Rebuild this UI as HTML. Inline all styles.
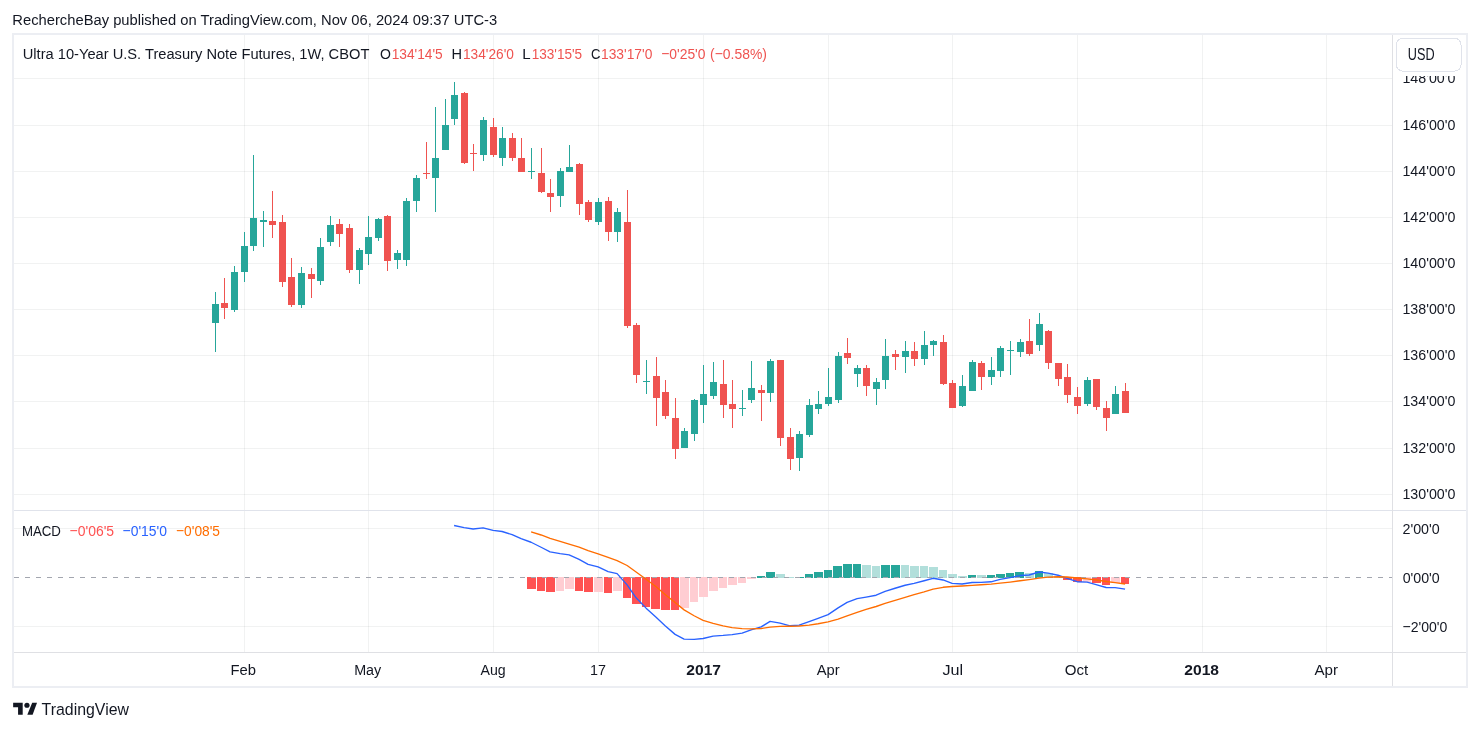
<!DOCTYPE html>
<html><head><meta charset="utf-8"><style>html,body{margin:0;padding:0;background:#fff;width:1480px;height:731px;overflow:hidden}svg{will-change:transform}text{shape-rendering:auto}</style></head>
<body><svg width="1480" height="731" viewBox="0 0 1480 731" style="display:block;font-family:'Liberation Sans', sans-serif" shape-rendering="crispEdges"><rect x="0" y="0" width="1480" height="731" fill="#ffffff"/>
<rect x="14" y="78" width="1378" height="1" fill="#3a4a44" fill-opacity="0.072"/>
<rect x="14" y="125" width="1378" height="1" fill="#3a4a44" fill-opacity="0.072"/>
<rect x="14" y="171" width="1378" height="1" fill="#3a4a44" fill-opacity="0.072"/>
<rect x="14" y="217" width="1378" height="1" fill="#3a4a44" fill-opacity="0.072"/>
<rect x="14" y="263" width="1378" height="1" fill="#3a4a44" fill-opacity="0.072"/>
<rect x="14" y="309" width="1378" height="1" fill="#3a4a44" fill-opacity="0.072"/>
<rect x="14" y="355" width="1378" height="1" fill="#3a4a44" fill-opacity="0.072"/>
<rect x="14" y="401" width="1378" height="1" fill="#3a4a44" fill-opacity="0.072"/>
<rect x="14" y="448" width="1378" height="1" fill="#3a4a44" fill-opacity="0.072"/>
<rect x="14" y="494" width="1378" height="1" fill="#3a4a44" fill-opacity="0.072"/>
<rect x="14" y="528" width="1378" height="1" fill="#3a4a44" fill-opacity="0.072"/>
<rect x="14" y="626" width="1378" height="1" fill="#3a4a44" fill-opacity="0.072"/>
<rect x="244" y="35" width="1" height="475" fill="#3a4a44" fill-opacity="0.072"/>
<rect x="244" y="511" width="1" height="141" fill="#3a4a44" fill-opacity="0.072"/>
<rect x="368" y="35" width="1" height="475" fill="#3a4a44" fill-opacity="0.072"/>
<rect x="368" y="511" width="1" height="141" fill="#3a4a44" fill-opacity="0.072"/>
<rect x="493" y="35" width="1" height="475" fill="#3a4a44" fill-opacity="0.072"/>
<rect x="493" y="511" width="1" height="141" fill="#3a4a44" fill-opacity="0.072"/>
<rect x="598" y="35" width="1" height="475" fill="#3a4a44" fill-opacity="0.072"/>
<rect x="598" y="511" width="1" height="141" fill="#3a4a44" fill-opacity="0.072"/>
<rect x="703" y="35" width="1" height="475" fill="#3a4a44" fill-opacity="0.072"/>
<rect x="703" y="511" width="1" height="141" fill="#3a4a44" fill-opacity="0.072"/>
<rect x="828" y="35" width="1" height="475" fill="#3a4a44" fill-opacity="0.072"/>
<rect x="828" y="511" width="1" height="141" fill="#3a4a44" fill-opacity="0.072"/>
<rect x="952" y="35" width="1" height="475" fill="#3a4a44" fill-opacity="0.072"/>
<rect x="952" y="511" width="1" height="141" fill="#3a4a44" fill-opacity="0.072"/>
<rect x="1077" y="35" width="1" height="475" fill="#3a4a44" fill-opacity="0.072"/>
<rect x="1077" y="511" width="1" height="141" fill="#3a4a44" fill-opacity="0.072"/>
<rect x="1202" y="35" width="1" height="475" fill="#3a4a44" fill-opacity="0.072"/>
<rect x="1202" y="511" width="1" height="141" fill="#3a4a44" fill-opacity="0.072"/>
<rect x="1326" y="35" width="1" height="475" fill="#3a4a44" fill-opacity="0.072"/>
<rect x="1326" y="511" width="1" height="141" fill="#3a4a44" fill-opacity="0.072"/>
<rect x="215" y="292" width="1" height="60" fill="#26a69a"/>
<rect x="212" y="304" width="7" height="19" fill="#26a69a"/>
<rect x="224" y="278" width="1" height="41" fill="#ef5350"/>
<rect x="221" y="303" width="7" height="5" fill="#ef5350"/>
<rect x="234" y="266" width="1" height="46" fill="#26a69a"/>
<rect x="231" y="272" width="7" height="38" fill="#26a69a"/>
<rect x="244" y="232" width="1" height="50" fill="#26a69a"/>
<rect x="241" y="246" width="7" height="26" fill="#26a69a"/>
<rect x="253" y="155" width="1" height="96" fill="#26a69a"/>
<rect x="250" y="218" width="7" height="28" fill="#26a69a"/>
<rect x="263" y="211" width="1" height="36" fill="#26a69a"/>
<rect x="260" y="220" width="7" height="2" fill="#26a69a"/>
<rect x="272" y="191" width="1" height="47" fill="#ef5350"/>
<rect x="269" y="221" width="7" height="4" fill="#ef5350"/>
<rect x="282" y="215" width="1" height="72" fill="#ef5350"/>
<rect x="279" y="222" width="7" height="60" fill="#ef5350"/>
<rect x="291" y="258" width="1" height="49" fill="#ef5350"/>
<rect x="288" y="277" width="7" height="28" fill="#ef5350"/>
<rect x="301" y="267" width="1" height="41" fill="#26a69a"/>
<rect x="298" y="273" width="7" height="32" fill="#26a69a"/>
<rect x="311" y="268" width="1" height="30" fill="#ef5350"/>
<rect x="308" y="274" width="7" height="5" fill="#ef5350"/>
<rect x="320" y="238" width="1" height="47" fill="#26a69a"/>
<rect x="317" y="247" width="7" height="34" fill="#26a69a"/>
<rect x="330" y="216" width="1" height="30" fill="#26a69a"/>
<rect x="327" y="225" width="7" height="17" fill="#26a69a"/>
<rect x="339" y="219" width="1" height="28" fill="#ef5350"/>
<rect x="336" y="224" width="7" height="10" fill="#ef5350"/>
<rect x="349" y="224" width="1" height="49" fill="#ef5350"/>
<rect x="346" y="228" width="7" height="42" fill="#ef5350"/>
<rect x="359" y="248" width="1" height="36" fill="#26a69a"/>
<rect x="356" y="250" width="7" height="20" fill="#26a69a"/>
<rect x="368" y="216" width="1" height="49" fill="#26a69a"/>
<rect x="365" y="237" width="7" height="17" fill="#26a69a"/>
<rect x="378" y="218" width="1" height="23" fill="#26a69a"/>
<rect x="375" y="219" width="7" height="19" fill="#26a69a"/>
<rect x="387" y="215" width="1" height="56" fill="#ef5350"/>
<rect x="384" y="216" width="7" height="45" fill="#ef5350"/>
<rect x="397" y="250" width="1" height="19" fill="#26a69a"/>
<rect x="394" y="253" width="7" height="7" fill="#26a69a"/>
<rect x="406" y="198" width="1" height="68" fill="#26a69a"/>
<rect x="403" y="201" width="7" height="59" fill="#26a69a"/>
<rect x="416" y="175" width="1" height="37" fill="#26a69a"/>
<rect x="413" y="178" width="7" height="23" fill="#26a69a"/>
<rect x="426" y="142" width="1" height="37" fill="#ef5350"/>
<rect x="423" y="173" width="7" height="1" fill="#ef5350"/>
<rect x="435" y="107" width="1" height="105" fill="#26a69a"/>
<rect x="432" y="158" width="7" height="20" fill="#26a69a"/>
<rect x="445" y="99" width="1" height="51" fill="#26a69a"/>
<rect x="442" y="125" width="7" height="25" fill="#26a69a"/>
<rect x="454" y="82" width="1" height="43" fill="#26a69a"/>
<rect x="451" y="95" width="7" height="24" fill="#26a69a"/>
<rect x="464" y="92" width="1" height="72" fill="#ef5350"/>
<rect x="461" y="93" width="7" height="70" fill="#ef5350"/>
<rect x="473" y="144" width="1" height="27" fill="#ef5350"/>
<rect x="470" y="153" width="7" height="1" fill="#ef5350"/>
<rect x="483" y="117" width="1" height="44" fill="#26a69a"/>
<rect x="480" y="120" width="7" height="35" fill="#26a69a"/>
<rect x="493" y="118" width="1" height="39" fill="#ef5350"/>
<rect x="490" y="127" width="7" height="28" fill="#ef5350"/>
<rect x="502" y="127" width="1" height="39" fill="#26a69a"/>
<rect x="499" y="138" width="7" height="20" fill="#26a69a"/>
<rect x="512" y="133" width="1" height="28" fill="#ef5350"/>
<rect x="509" y="138" width="7" height="20" fill="#ef5350"/>
<rect x="521" y="138" width="1" height="34" fill="#ef5350"/>
<rect x="518" y="158" width="7" height="14" fill="#ef5350"/>
<rect x="531" y="148" width="1" height="31" fill="#26a69a"/>
<rect x="528" y="171" width="7" height="1" fill="#26a69a"/>
<rect x="541" y="148" width="1" height="45" fill="#ef5350"/>
<rect x="538" y="173" width="7" height="19" fill="#ef5350"/>
<rect x="550" y="179" width="1" height="33" fill="#ef5350"/>
<rect x="547" y="193" width="7" height="4" fill="#ef5350"/>
<rect x="560" y="168" width="1" height="39" fill="#26a69a"/>
<rect x="557" y="171" width="7" height="25" fill="#26a69a"/>
<rect x="569" y="145" width="1" height="27" fill="#26a69a"/>
<rect x="566" y="167" width="7" height="5" fill="#26a69a"/>
<rect x="579" y="163" width="1" height="52" fill="#ef5350"/>
<rect x="576" y="164" width="7" height="40" fill="#ef5350"/>
<rect x="588" y="200" width="1" height="22" fill="#ef5350"/>
<rect x="585" y="202" width="7" height="18" fill="#ef5350"/>
<rect x="598" y="198" width="1" height="27" fill="#26a69a"/>
<rect x="595" y="202" width="7" height="20" fill="#26a69a"/>
<rect x="608" y="197" width="1" height="44" fill="#ef5350"/>
<rect x="605" y="201" width="7" height="31" fill="#ef5350"/>
<rect x="617" y="208" width="1" height="34" fill="#26a69a"/>
<rect x="614" y="212" width="7" height="20" fill="#26a69a"/>
<rect x="627" y="190" width="1" height="138" fill="#ef5350"/>
<rect x="624" y="222" width="7" height="104" fill="#ef5350"/>
<rect x="636" y="323" width="1" height="60" fill="#ef5350"/>
<rect x="633" y="325" width="7" height="50" fill="#ef5350"/>
<rect x="646" y="360" width="1" height="34" fill="#26a69a"/>
<rect x="643" y="381" width="7" height="1" fill="#26a69a"/>
<rect x="656" y="357" width="1" height="69" fill="#ef5350"/>
<rect x="653" y="376" width="7" height="22" fill="#ef5350"/>
<rect x="665" y="380" width="1" height="39" fill="#ef5350"/>
<rect x="662" y="392" width="7" height="24" fill="#ef5350"/>
<rect x="675" y="398" width="1" height="61" fill="#ef5350"/>
<rect x="672" y="418" width="7" height="31" fill="#ef5350"/>
<rect x="684" y="428" width="1" height="20" fill="#26a69a"/>
<rect x="681" y="431" width="7" height="17" fill="#26a69a"/>
<rect x="694" y="399" width="1" height="42" fill="#26a69a"/>
<rect x="691" y="400" width="7" height="34" fill="#26a69a"/>
<rect x="703" y="365" width="1" height="58" fill="#26a69a"/>
<rect x="700" y="394" width="7" height="11" fill="#26a69a"/>
<rect x="713" y="362" width="1" height="37" fill="#26a69a"/>
<rect x="710" y="382" width="7" height="14" fill="#26a69a"/>
<rect x="723" y="360" width="1" height="58" fill="#ef5350"/>
<rect x="720" y="384" width="7" height="21" fill="#ef5350"/>
<rect x="732" y="380" width="1" height="48" fill="#ef5350"/>
<rect x="729" y="404" width="7" height="5" fill="#ef5350"/>
<rect x="742" y="390" width="1" height="26" fill="#26a69a"/>
<rect x="739" y="408" width="7" height="1" fill="#26a69a"/>
<rect x="751" y="361" width="1" height="42" fill="#26a69a"/>
<rect x="748" y="388" width="7" height="12" fill="#26a69a"/>
<rect x="761" y="385" width="1" height="36" fill="#ef5350"/>
<rect x="758" y="390" width="7" height="3" fill="#ef5350"/>
<rect x="770" y="359" width="1" height="43" fill="#26a69a"/>
<rect x="767" y="361" width="7" height="32" fill="#26a69a"/>
<rect x="780" y="360" width="1" height="86" fill="#ef5350"/>
<rect x="777" y="360" width="7" height="78" fill="#ef5350"/>
<rect x="790" y="428" width="1" height="42" fill="#ef5350"/>
<rect x="787" y="437" width="7" height="22" fill="#ef5350"/>
<rect x="799" y="431" width="1" height="40" fill="#26a69a"/>
<rect x="796" y="434" width="7" height="24" fill="#26a69a"/>
<rect x="809" y="399" width="1" height="38" fill="#26a69a"/>
<rect x="806" y="405" width="7" height="30" fill="#26a69a"/>
<rect x="818" y="391" width="1" height="23" fill="#26a69a"/>
<rect x="815" y="404" width="7" height="5" fill="#26a69a"/>
<rect x="828" y="368" width="1" height="38" fill="#26a69a"/>
<rect x="825" y="397" width="7" height="7" fill="#26a69a"/>
<rect x="838" y="352" width="1" height="51" fill="#26a69a"/>
<rect x="835" y="356" width="7" height="44" fill="#26a69a"/>
<rect x="847" y="338" width="1" height="26" fill="#ef5350"/>
<rect x="844" y="353" width="7" height="5" fill="#ef5350"/>
<rect x="857" y="365" width="1" height="22" fill="#26a69a"/>
<rect x="854" y="368" width="7" height="6" fill="#26a69a"/>
<rect x="866" y="365" width="1" height="31" fill="#ef5350"/>
<rect x="863" y="368" width="7" height="18" fill="#ef5350"/>
<rect x="876" y="378" width="1" height="27" fill="#26a69a"/>
<rect x="873" y="382" width="7" height="7" fill="#26a69a"/>
<rect x="885" y="339" width="1" height="50" fill="#26a69a"/>
<rect x="882" y="356" width="7" height="24" fill="#26a69a"/>
<rect x="895" y="350" width="1" height="20" fill="#ef5350"/>
<rect x="892" y="354" width="7" height="3" fill="#ef5350"/>
<rect x="905" y="341" width="1" height="32" fill="#26a69a"/>
<rect x="902" y="351" width="7" height="6" fill="#26a69a"/>
<rect x="914" y="342" width="1" height="24" fill="#ef5350"/>
<rect x="911" y="351" width="7" height="8" fill="#ef5350"/>
<rect x="924" y="331" width="1" height="34" fill="#26a69a"/>
<rect x="921" y="345" width="7" height="14" fill="#26a69a"/>
<rect x="933" y="340" width="1" height="16" fill="#26a69a"/>
<rect x="930" y="341" width="7" height="4" fill="#26a69a"/>
<rect x="943" y="335" width="1" height="50" fill="#ef5350"/>
<rect x="940" y="342" width="7" height="42" fill="#ef5350"/>
<rect x="952" y="380" width="1" height="28" fill="#ef5350"/>
<rect x="949" y="383" width="7" height="25" fill="#ef5350"/>
<rect x="962" y="375" width="1" height="32" fill="#26a69a"/>
<rect x="959" y="386" width="7" height="20" fill="#26a69a"/>
<rect x="972" y="360" width="1" height="31" fill="#26a69a"/>
<rect x="969" y="362" width="7" height="29" fill="#26a69a"/>
<rect x="981" y="361" width="1" height="29" fill="#ef5350"/>
<rect x="978" y="363" width="7" height="14" fill="#ef5350"/>
<rect x="991" y="357" width="1" height="28" fill="#26a69a"/>
<rect x="988" y="370" width="7" height="7" fill="#26a69a"/>
<rect x="1000" y="346" width="1" height="31" fill="#26a69a"/>
<rect x="997" y="348" width="7" height="23" fill="#26a69a"/>
<rect x="1010" y="341" width="1" height="34" fill="#26a69a"/>
<rect x="1007" y="350" width="7" height="1" fill="#26a69a"/>
<rect x="1020" y="339" width="1" height="18" fill="#26a69a"/>
<rect x="1017" y="342" width="7" height="10" fill="#26a69a"/>
<rect x="1029" y="319" width="1" height="37" fill="#ef5350"/>
<rect x="1026" y="341" width="7" height="13" fill="#ef5350"/>
<rect x="1039" y="313" width="1" height="38" fill="#26a69a"/>
<rect x="1036" y="324" width="7" height="21" fill="#26a69a"/>
<rect x="1048" y="330" width="1" height="39" fill="#ef5350"/>
<rect x="1045" y="331" width="7" height="32" fill="#ef5350"/>
<rect x="1058" y="363" width="1" height="23" fill="#ef5350"/>
<rect x="1055" y="363" width="7" height="16" fill="#ef5350"/>
<rect x="1067" y="364" width="1" height="39" fill="#ef5350"/>
<rect x="1064" y="377" width="7" height="18" fill="#ef5350"/>
<rect x="1077" y="387" width="1" height="27" fill="#ef5350"/>
<rect x="1074" y="397" width="7" height="9" fill="#ef5350"/>
<rect x="1087" y="377" width="1" height="29" fill="#26a69a"/>
<rect x="1084" y="380" width="7" height="24" fill="#26a69a"/>
<rect x="1096" y="379" width="1" height="31" fill="#ef5350"/>
<rect x="1093" y="379" width="7" height="28" fill="#ef5350"/>
<rect x="1106" y="401" width="1" height="30" fill="#ef5350"/>
<rect x="1103" y="408" width="7" height="10" fill="#ef5350"/>
<rect x="1115" y="386" width="1" height="28" fill="#26a69a"/>
<rect x="1112" y="394" width="7" height="20" fill="#26a69a"/>
<rect x="1125" y="383" width="1" height="30" fill="#ef5350"/>
<rect x="1122" y="391" width="7" height="22" fill="#ef5350"/>
<rect x="527" y="577" width="9" height="12" fill="#ff5252"/>
<rect x="537" y="577" width="8" height="14" fill="#ff5252"/>
<rect x="546" y="577" width="9" height="15" fill="#ff5252"/>
<rect x="556" y="577" width="8" height="14" fill="#ffcdd2"/>
<rect x="565" y="577" width="9" height="12" fill="#ffcdd2"/>
<rect x="575" y="577" width="8" height="14" fill="#ff5252"/>
<rect x="584" y="577" width="9" height="15" fill="#ff5252"/>
<rect x="594" y="577" width="9" height="15" fill="#ffcdd2"/>
<rect x="604" y="577" width="8" height="16" fill="#ff5252"/>
<rect x="613" y="577" width="9" height="14" fill="#ffcdd2"/>
<rect x="623" y="577" width="8" height="21" fill="#ff5252"/>
<rect x="632" y="577" width="9" height="27" fill="#ff5252"/>
<rect x="642" y="577" width="8" height="30" fill="#ff5252"/>
<rect x="651" y="577" width="9" height="32" fill="#ff5252"/>
<rect x="661" y="577" width="9" height="33" fill="#ff5252"/>
<rect x="671" y="577" width="8" height="33" fill="#ff5252"/>
<rect x="680" y="577" width="9" height="31" fill="#ffcdd2"/>
<rect x="690" y="577" width="8" height="25" fill="#ffcdd2"/>
<rect x="699" y="577" width="9" height="20" fill="#ffcdd2"/>
<rect x="709" y="577" width="9" height="14" fill="#ffcdd2"/>
<rect x="719" y="577" width="8" height="11" fill="#ffcdd2"/>
<rect x="728" y="577" width="9" height="8" fill="#ffcdd2"/>
<rect x="738" y="577" width="8" height="6" fill="#ffcdd2"/>
<rect x="747" y="577" width="9" height="2" fill="#ffcdd2"/>
<rect x="757" y="576" width="8" height="2" fill="#26a69a"/>
<rect x="766" y="572" width="9" height="6" fill="#26a69a"/>
<rect x="776" y="574" width="9" height="4" fill="#b2dfdb"/>
<rect x="786" y="577" width="8" height="1" fill="#b2dfdb"/>
<rect x="795" y="577" width="9" height="1" fill="#26a69a"/>
<rect x="805" y="574" width="8" height="4" fill="#26a69a"/>
<rect x="814" y="572" width="9" height="6" fill="#26a69a"/>
<rect x="824" y="570" width="8" height="8" fill="#26a69a"/>
<rect x="833" y="566" width="9" height="12" fill="#26a69a"/>
<rect x="843" y="564" width="9" height="14" fill="#26a69a"/>
<rect x="853" y="564" width="8" height="14" fill="#26a69a"/>
<rect x="862" y="565" width="9" height="13" fill="#b2dfdb"/>
<rect x="872" y="566" width="8" height="12" fill="#b2dfdb"/>
<rect x="881" y="565" width="9" height="13" fill="#26a69a"/>
<rect x="891" y="565" width="9" height="13" fill="#26a69a"/>
<rect x="901" y="565" width="8" height="13" fill="#b2dfdb"/>
<rect x="910" y="566" width="9" height="12" fill="#b2dfdb"/>
<rect x="920" y="566" width="8" height="12" fill="#b2dfdb"/>
<rect x="929" y="567" width="9" height="11" fill="#b2dfdb"/>
<rect x="939" y="570" width="8" height="8" fill="#b2dfdb"/>
<rect x="948" y="574" width="9" height="4" fill="#b2dfdb"/>
<rect x="958" y="576" width="9" height="2" fill="#b2dfdb"/>
<rect x="968" y="575" width="8" height="3" fill="#26a69a"/>
<rect x="977" y="575" width="9" height="3" fill="#b2dfdb"/>
<rect x="987" y="575" width="8" height="3" fill="#26a69a"/>
<rect x="996" y="574" width="9" height="4" fill="#26a69a"/>
<rect x="1006" y="573" width="8" height="5" fill="#26a69a"/>
<rect x="1015" y="572" width="9" height="6" fill="#26a69a"/>
<rect x="1025" y="573" width="9" height="5" fill="#b2dfdb"/>
<rect x="1035" y="571" width="8" height="7" fill="#26a69a"/>
<rect x="1044" y="573" width="9" height="5" fill="#b2dfdb"/>
<rect x="1054" y="576" width="8" height="2" fill="#b2dfdb"/>
<rect x="1063" y="577" width="9" height="3" fill="#ff5252"/>
<rect x="1073" y="577" width="9" height="5" fill="#ff5252"/>
<rect x="1083" y="577" width="8" height="5" fill="#ffcdd2"/>
<rect x="1092" y="577" width="9" height="6" fill="#ff5252"/>
<rect x="1102" y="577" width="8" height="8" fill="#ff5252"/>
<rect x="1111" y="577" width="9" height="6" fill="#ffcdd2"/>
<rect x="1121" y="577" width="8" height="7" fill="#ff5252"/>
<line x1="14" y1="577.5" x2="1392" y2="577.5" stroke="#a3a6af" stroke-width="1" stroke-dasharray="5 6" shape-rendering="crispEdges"/>
<polyline points="454.10,525.47 464.10,527.56 473.10,529.00 483.10,527.81 493.10,530.39 502.10,531.51 512.10,534.61 521.10,538.72 531.10,542.25 541.10,547.24 550.10,551.89 560.10,553.65 569.10,554.94 579.10,559.35 588.10,564.36 598.10,566.93 608.10,571.58 617.10,573.63 627.10,584.90 636.10,597.78 646.10,608.13 656.10,617.35 665.10,625.65 675.10,634.37 684.10,639.09 694.10,639.44 703.10,638.50 713.10,636.05 723.10,635.38 732.10,634.56 742.10,633.15 751.10,629.78 761.10,626.92 770.10,621.44 780.10,623.20 790.10,625.78 799.10,625.16 809.10,621.66 818.10,618.32 828.10,614.66 838.10,607.91 847.10,602.43 857.10,598.69 866.10,597.06 876.10,595.22 885.10,591.37 895.10,588.26 905.10,585.24 914.10,583.41 924.10,580.76 933.10,578.29 943.10,579.99 952.10,583.32 962.10,584.02 972.10,582.46 981.10,582.42 991.10,581.78 1000.10,579.36 1010.10,577.59 1020.10,575.54 1029.10,574.98 1039.10,572.02 1048.10,573.05 1058.10,575.26 1067.10,578.37 1077.10,581.73 1087.10,582.11 1096.10,584.67 1106.10,587.49 1115.10,587.56 1125.10,589.13" fill="none" stroke="#2962ff" stroke-width="1.35" stroke-linejoin="round" shape-rendering="geometricPrecision"/>
<polyline points="531.10,531.93 541.10,534.99 550.10,538.37 560.10,541.42 569.10,544.13 579.10,547.17 588.10,550.61 598.10,553.87 608.10,557.42 617.10,560.66 627.10,565.51 636.10,571.96 646.10,579.19 656.10,586.83 665.10,594.59 675.10,602.55 684.10,609.86 694.10,615.77 703.10,620.32 713.10,623.46 723.10,625.85 732.10,627.59 742.10,628.70 751.10,628.92 761.10,628.52 770.10,627.10 780.10,626.32 790.10,626.21 799.10,626.00 809.10,625.13 818.10,623.77 828.10,621.95 838.10,619.14 847.10,615.80 857.10,612.38 866.10,609.31 876.10,606.49 885.10,603.47 895.10,600.43 905.10,597.39 914.10,594.60 924.10,591.83 933.10,589.12 943.10,587.29 952.10,586.50 962.10,586.01 972.10,585.30 981.10,584.72 991.10,584.13 1000.10,583.18 1010.10,582.06 1020.10,580.76 1029.10,579.60 1039.10,578.09 1048.10,577.08 1058.10,576.71 1067.10,577.04 1077.10,577.98 1087.10,578.81 1096.10,579.98 1106.10,581.48 1115.10,582.70 1125.10,583.99" fill="none" stroke="#ff6d00" stroke-width="1.35" stroke-linejoin="round" shape-rendering="geometricPrecision"/>
<rect x="14" y="510" width="1452" height="1" fill="#e0e3eb"/>
<rect x="14" y="652" width="1452" height="1" fill="#dfe0e4"/>
<rect x="1392" y="35" width="1" height="651" fill="#dfe0e4"/>
<rect x="12" y="33" width="1456" height="2" fill="#eceef3"/>
<rect x="12" y="686" width="1456" height="2" fill="#eceef3"/>
<rect x="12" y="33" width="2" height="655" fill="#eceef3"/>
<rect x="1466" y="33" width="2" height="655" fill="#eceef3"/>
<text x="12.36" y="25" font-size="15.5" fill="#131722" font-weight="normal" text-anchor="start" textLength="484.79" lengthAdjust="spacingAndGlyphs">RechercheBay published on TradingView.com, Nov 06, 2024 09:37 UTC-3</text>
<text x="22.76" y="59" font-size="15.5" fill="#131722" font-weight="normal" text-anchor="start" textLength="346.6" lengthAdjust="spacingAndGlyphs">Ultra 10-Year U.S. Treasury Note Futures, 1W, CBOT</text>
<text x="379.97" y="59" font-size="15.5" fill="#131722" font-weight="normal" text-anchor="start" textLength="10.92" lengthAdjust="spacingAndGlyphs">O</text>
<text x="391.64" y="59" font-size="15.5" fill="#ef5350" font-weight="normal" text-anchor="start" textLength="51.03" lengthAdjust="spacingAndGlyphs">134'14'5</text>
<text x="451.58" y="59" font-size="15.5" fill="#131722" font-weight="normal" text-anchor="start" textLength="10.54" lengthAdjust="spacingAndGlyphs">H</text>
<text x="462.94" y="59" font-size="15.5" fill="#ef5350" font-weight="normal" text-anchor="start" textLength="50.93" lengthAdjust="spacingAndGlyphs">134'26'0</text>
<text x="522.24" y="59" font-size="15.5" fill="#131722" font-weight="normal" text-anchor="start" textLength="8.37" lengthAdjust="spacingAndGlyphs">L</text>
<text x="531.65" y="59" font-size="15.5" fill="#ef5350" font-weight="normal" text-anchor="start" textLength="50.51" lengthAdjust="spacingAndGlyphs">133'15'5</text>
<text x="591.12" y="59" font-size="15.5" fill="#131722" font-weight="normal" text-anchor="start" textLength="9.48" lengthAdjust="spacingAndGlyphs">C</text>
<text x="601.03" y="59" font-size="15.5" fill="#ef5350" font-weight="normal" text-anchor="start" textLength="51.34" lengthAdjust="spacingAndGlyphs">133'17'0</text>
<text x="661.18" y="59" font-size="15.5" fill="#ef5350" font-weight="normal" text-anchor="start" textLength="44.3" lengthAdjust="spacingAndGlyphs">−0'25'0</text>
<text x="710.1" y="59" font-size="15.5" fill="#ef5350" font-weight="normal" text-anchor="start" textLength="56.82" lengthAdjust="spacingAndGlyphs">(−0.58%)</text>
<text x="1402.4" y="130" font-size="15.5" fill="#131722" font-weight="normal" text-anchor="start" textLength="52.99" lengthAdjust="spacingAndGlyphs">146'00'0</text>
<text x="1402.4" y="176" font-size="15.5" fill="#131722" font-weight="normal" text-anchor="start" textLength="52.99" lengthAdjust="spacingAndGlyphs">144'00'0</text>
<text x="1402.4" y="222" font-size="15.5" fill="#131722" font-weight="normal" text-anchor="start" textLength="52.99" lengthAdjust="spacingAndGlyphs">142'00'0</text>
<text x="1402.4" y="268" font-size="15.5" fill="#131722" font-weight="normal" text-anchor="start" textLength="52.99" lengthAdjust="spacingAndGlyphs">140'00'0</text>
<text x="1402.4" y="314" font-size="15.5" fill="#131722" font-weight="normal" text-anchor="start" textLength="52.99" lengthAdjust="spacingAndGlyphs">138'00'0</text>
<text x="1402.4" y="360" font-size="15.5" fill="#131722" font-weight="normal" text-anchor="start" textLength="52.99" lengthAdjust="spacingAndGlyphs">136'00'0</text>
<text x="1402.4" y="406" font-size="15.5" fill="#131722" font-weight="normal" text-anchor="start" textLength="52.99" lengthAdjust="spacingAndGlyphs">134'00'0</text>
<text x="1402.4" y="453" font-size="15.5" fill="#131722" font-weight="normal" text-anchor="start" textLength="52.99" lengthAdjust="spacingAndGlyphs">132'00'0</text>
<text x="1402.4" y="499" font-size="15.5" fill="#131722" font-weight="normal" text-anchor="start" textLength="52.99" lengthAdjust="spacingAndGlyphs">130'00'0</text>
<text x="1402.46" y="533.8" font-size="15.5" fill="#131722" font-weight="normal" text-anchor="start" textLength="37.29" lengthAdjust="spacingAndGlyphs">2'00'0</text>
<text x="1402.65" y="582.9" font-size="15.5" fill="#131722" font-weight="normal" text-anchor="start" textLength="37.1" lengthAdjust="spacingAndGlyphs">0'00'0</text>
<text x="1402.48" y="632.2" font-size="15.5" fill="#131722" font-weight="normal" text-anchor="start" textLength="44.82" lengthAdjust="spacingAndGlyphs">−2'00'0</text>
<text x="230.56" y="675" font-size="15.5" fill="#131722" font-weight="normal" text-anchor="start" textLength="25.52" lengthAdjust="spacingAndGlyphs">Feb</text>
<text x="354.2" y="675" font-size="15.5" fill="#131722" font-weight="normal" text-anchor="start" textLength="27.08" lengthAdjust="spacingAndGlyphs">May</text>
<text x="480.5" y="675" font-size="15.5" fill="#131722" font-weight="normal" text-anchor="start" textLength="25.19" lengthAdjust="spacingAndGlyphs">Aug</text>
<text x="589.99" y="675" font-size="15.5" fill="#131722" font-weight="normal" text-anchor="start" textLength="16.0" lengthAdjust="spacingAndGlyphs">17</text>
<text x="686.3" y="675" font-size="15.5" fill="#131722" font-weight="bold" text-anchor="start" textLength="34.69" lengthAdjust="spacingAndGlyphs">2017</text>
<text x="816.8" y="675" font-size="15.5" fill="#131722" font-weight="normal" text-anchor="start" textLength="22.91" lengthAdjust="spacingAndGlyphs">Apr</text>
<text x="942.49" y="675" font-size="15.5" fill="#131722" font-weight="normal" text-anchor="start" textLength="20.67" lengthAdjust="spacingAndGlyphs">Jul</text>
<text x="1064.72" y="675" font-size="15.5" fill="#131722" font-weight="normal" text-anchor="start" textLength="23.49" lengthAdjust="spacingAndGlyphs">Oct</text>
<text x="1184.3" y="675" font-size="15.5" fill="#131722" font-weight="bold" text-anchor="start" textLength="34.69" lengthAdjust="spacingAndGlyphs">2018</text>
<text x="1314.5" y="675" font-size="15.5" fill="#131722" font-weight="normal" text-anchor="start" textLength="23.51" lengthAdjust="spacingAndGlyphs">Apr</text>
<text x="21.89" y="536" font-size="15.5" fill="#131722" font-weight="normal" text-anchor="start" textLength="39.04" lengthAdjust="spacingAndGlyphs">MACD</text>
<text x="69.58" y="536" font-size="15.5" fill="#ff5252" font-weight="normal" text-anchor="start" textLength="44.51" lengthAdjust="spacingAndGlyphs">−0'06'5</text>
<text x="122.58" y="536" font-size="15.5" fill="#2962ff" font-weight="normal" text-anchor="start" textLength="44.4" lengthAdjust="spacingAndGlyphs">−0'15'0</text>
<text x="176.09" y="536" font-size="15.5" fill="#ff6d00" font-weight="normal" text-anchor="start" textLength="43.89" lengthAdjust="spacingAndGlyphs">−0'08'5</text>
<rect x="1396.5" y="38.5" width="64.5" height="32.5" rx="6" ry="6" fill="#ffffff" stroke="#e0e3eb" stroke-width="1"/>
<text x="1407.87" y="59.7" font-size="16.3" fill="#131722" font-weight="normal" text-anchor="start" textLength="26.77" lengthAdjust="spacingAndGlyphs">USD</text>
<clipPath id="c148"><rect x="1393" y="76" width="73" height="20"/></clipPath>
<g clip-path="url(#c148)"><text x="1402.4" y="83" font-size="15.5" fill="#131722" font-weight="normal" text-anchor="start" textLength="52.99" lengthAdjust="spacingAndGlyphs">148'00'0</text></g>
<g shape-rendering="geometricPrecision">
<path d="M13.15 702.8 H22.7 V714.7 H18.07 V707.2 H13.15 Z" fill="#131722"/>
<circle cx="26.96" cy="705.25" r="2.6" fill="#131722"/>
<path d="M32.2 702.8 H37 L32.6 714.7 H27.3 Z" fill="#131722"/>
</g>
<text x="41.62" y="714.8" font-size="16.8" fill="#131722" font-weight="normal" text-anchor="start" textLength="87.34" lengthAdjust="spacingAndGlyphs">TradingView</text></svg></body></html>
